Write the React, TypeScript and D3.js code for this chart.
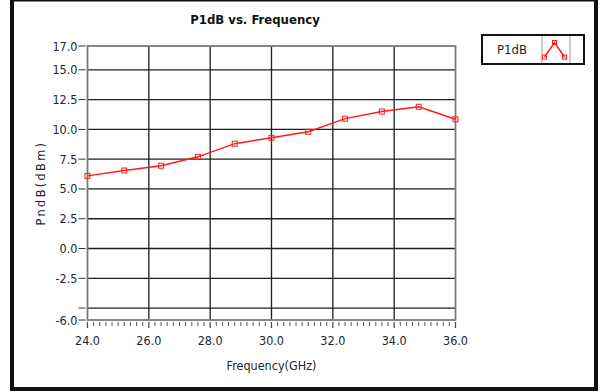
import { type FC, useEffect, useRef } from 'react';
import * as d3 from 'd3';

const freqs = [24.0, 25.2, 26.4, 27.6, 28.8, 30.0, 31.2, 32.4, 33.6, 34.8, 36.0];
const p1dB = [6.1, 6.55, 6.95, 7.7, 8.8, 9.3, 9.8, 10.9, 11.5, 11.9, 10.85];

const xTicks = [24, 26, 28, 30, 32, 34, 36];
const yTicks = [17, 15, 12.5, 10, 7.5, 5, 2.5, 0, -2.5, -5, -6];
const yTickLabels = ['17.0', '15.0', '12.5', '10.0', '7.5', '5.0', '2.5', '0.0', '-2.5', '', '-6.0'];

const seriesName = 'P1dB';
const title = 'P1dB vs. Frequency';
const xTitle = 'Frequency(GHz)';
const yTitle = 'PndB(dBm)';

const width = 603;
const height = 392;
const font = '"DejaVu Sans Condensed", "DejaVu Sans", sans-serif';
const lineColor = '#ff1a1a';
const gridColor = '#1e1e1e';
const borderColor = '#7a7a7a';
const textColor = '#1f2530';
const plot = { left: 87.5, right: 455.5, top: 46, bottom: 320 };

const Chart: FC = () => {
  const ref = useRef<SVGSVGElement>(null);

  useEffect(() => {
    if (!ref.current) return;
    const svg = d3.select(ref.current);
    svg.selectAll('*').remove();

    // outer frame
    svg
      .append('rect')
      .attr('x', 12)
      .attr('y', -0.5)
      .attr('width', 584)
      .attr('height', 389.5)
      .attr('fill', '#fff')
      .attr('stroke', '#111')
      .attr('stroke-width', 4);

    const x = d3.scaleLinear().domain([24, 36]).range([plot.left, plot.right]);
    const y = d3.scaleLinear().domain([-6, 17]).range([plot.bottom, plot.top]);

    // grid
    const grid = svg.append('g');
    grid
      .selectAll('line.h')
      .data(yTicks.slice(1, -1))
      .join('line')
      .attr('class', 'h')
      .attr('x1', plot.left)
      .attr('x2', plot.right)
      .attr('y1', (d) => y(d))
      .attr('y2', (d) => y(d))
      .attr('stroke', gridColor)
      .attr('stroke-width', 1.3);
    grid
      .selectAll('line.v')
      .data(xTicks.slice(1, -1))
      .join('line')
      .attr('class', 'v')
      .attr('x1', (d) => x(d))
      .attr('x2', (d) => x(d))
      .attr('y1', plot.top)
      .attr('y2', plot.bottom)
      .attr('stroke', gridColor)
      .attr('stroke-width', 1.3);

    // plot border
    svg
      .append('rect')
      .attr('x', plot.left)
      .attr('y', plot.top)
      .attr('width', plot.right - plot.left)
      .attr('height', plot.bottom - plot.top)
      .attr('fill', 'none')
      .attr('stroke', borderColor)
      .attr('stroke-width', 1.8);

    // y ticks + labels
    const yg = svg.append('g');
    yg.selectAll('line')
      .data(yTicks)
      .join('line')
      .attr('x1', plot.left - 9)
      .attr('x2', plot.left - 2)
      .attr('y1', (d) => y(d))
      .attr('y2', (d) => y(d))
      .attr('stroke', '#333')
      .attr('stroke-width', 1);
    yg.selectAll('text')
      .data(yTicks)
      .join('text')
      .attr('x', plot.left - 10)
      .attr('y', (d) => y(d) + 4.5)
      .attr('text-anchor', 'end')
      .attr('font-family', font)
      .attr('font-size', 12.5)
      .attr('fill', textColor)
      .text((d, i) => yTickLabels[i]);

    // x ticks (major + minor) + labels
    const xg = svg.append('g');
    xg.selectAll('line')
      .data(d3.range(0, 61).map((i) => 24 + i * 0.2))
      .join('line')
      .attr('x1', (d) => x(d))
      .attr('x2', (d) => x(d))
      .attr('y1', plot.bottom + 2)
      .attr('y2', (d, i) => plot.bottom + (i % 10 === 0 ? 8 : 6))
      .attr('stroke', '#444')
      .attr('stroke-width', (d, i) => (i % 10 === 0 ? 1.2 : 0.9));
    xg.selectAll('text')
      .data(xTicks)
      .join('text')
      .attr('x', (d) => x(d))
      .attr('y', plot.bottom + 25)
      .attr('text-anchor', 'middle')
      .attr('font-family', font)
      .attr('font-size', 12.5)
      .attr('fill', textColor)
      .text((d) => d.toFixed(1));

    // titles
    svg
      .append('text')
      .attr('x', 255)
      .attr('y', 24)
      .attr('text-anchor', 'middle')
      .attr('font-family', font)
      .attr('font-weight', 'bold')
      .attr('font-size', 13)
      .attr('fill', '#111')
      .text(title);
    svg
      .append('text')
      .attr('x', x(30))
      .attr('y', 370)
      .attr('text-anchor', 'middle')
      .attr('font-family', font)
      .attr('font-size', 12.5)
      .attr('fill', textColor)
      .text(xTitle);
    svg
      .append('text')
      .attr('transform', `translate(45,${(plot.top + plot.bottom) / 2}) rotate(-90)`)
      .attr('text-anchor', 'middle')
      .attr('font-family', font)
      .attr('font-size', 12.5)
      .attr('letter-spacing', 2.4)
      .attr('fill', textColor)
      .text(yTitle);

    // series
    const pts = freqs.map((f, i) => [f, p1dB[i]] as [number, number]);
    const line = d3
      .line<[number, number]>()
      .x((d) => x(d[0]))
      .y((d) => y(d[1]));
    svg
      .append('path')
      .datum(pts)
      .attr('d', line)
      .attr('fill', 'none')
      .attr('stroke', lineColor)
      .attr('stroke-width', 1.4);
    svg
      .append('g')
      .selectAll('rect')
      .data(pts)
      .join('rect')
      .attr('x', (d) => x(d[0]) - 2.5)
      .attr('y', (d) => y(d[1]) - 2.5)
      .attr('width', 5)
      .attr('height', 5)
      .attr('fill', 'none')
      .attr('stroke', lineColor)
      .attr('stroke-width', 1);

    // legend
    const lg = svg.append('g');
    lg.append('rect')
      .attr('x', 482)
      .attr('y', 35)
      .attr('width', 102)
      .attr('height', 29)
      .attr('fill', '#fff')
      .attr('stroke', '#111')
      .attr('stroke-width', 2);
    [542, 570].forEach((lx) => {
      lg.append('line')
        .attr('x1', lx)
        .attr('x2', lx)
        .attr('y1', 36)
        .attr('y2', 63)
        .attr('stroke', '#999')
        .attr('stroke-width', 1);
    });
    lg.append('text')
      .attr('x', 512)
      .attr('y', 54)
      .attr('text-anchor', 'middle')
      .attr('font-family', font)
      .attr('font-size', 13)
      .attr('fill', textColor)
      .text(seriesName);
    const icon: [number, number][] = [
      [544.5, 57],
      [554.5, 42.5],
      [564.5, 57],
    ];
    lg.append('polyline')
      .attr('points', icon.map((p) => p.join(',')).join(' '))
      .attr('fill', 'none')
      .attr('stroke', lineColor)
      .attr('stroke-width', 1.4);
    lg.selectAll('rect.m')
      .data(icon)
      .join('rect')
      .attr('class', 'm')
      .attr('x', (d) => d[0] - 2)
      .attr('y', (d) => d[1] - 2)
      .attr('width', 4)
      .attr('height', 4)
      .attr('fill', 'none')
      .attr('stroke', lineColor)
      .attr('stroke-width', 1);
  }, []);

  return (
    <svg
      ref={ref}
      width={width}
      height={height}
      style={{ position: 'absolute', left: 0, top: 0, background: '#fff' }}
    />
  );
};

export default function App() {
  return <Chart />;
}
